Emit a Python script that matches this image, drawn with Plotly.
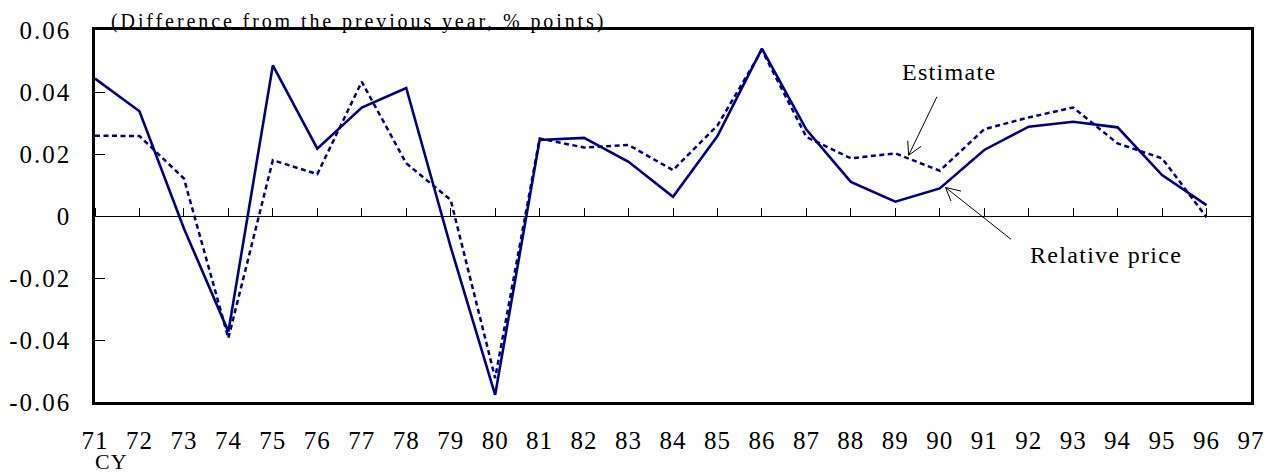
import plotly.graph_objects as go

# Calendar years (two-digit) and the two series, year-on-year change in % points
years = list(range(71, 97))
relative_price = [0.0443, 0.0338, -0.0040, -0.0373, 0.0486, 0.0217, 0.0350, 0.0413,
                  -0.0100, -0.0577, 0.0245, 0.0252, 0.0175, 0.0062, 0.0258, 0.0540,
                  0.0279, 0.0110, 0.0046, 0.0089, 0.0213, 0.0288, 0.0304, 0.0286,
                  0.0132, 0.0035]
estimate = [0.0259, 0.0258, 0.0121, -0.0394, 0.0180, 0.0135, 0.0433, 0.0170,
            0.0052, -0.0523, 0.0250, 0.0221, 0.0229, 0.0148, 0.0292, 0.0535,
            0.0255, 0.0186, 0.0202, 0.0146, 0.0280, 0.0318, 0.0350, 0.0234,
            0.0186, -0.0004]

x_ticks = list(range(71, 98))
y_ticks = [-0.06, -0.04, -0.02, 0, 0.02, 0.04, 0.06]
y_labels = ["-0.06", "-0.04", "-0.02", "0", "0.02", "0.04", "0.06"]

NAVY = "#000080"
SERIF = "Liberation Serif, Times New Roman, serif"


def spaced(text, px):
    return f'<span style="letter-spacing:{px}px">{text}</span>'


fig = go.Figure()
fig.add_trace(go.Scatter(x=years, y=estimate, mode="lines", name="Estimate",
                         line=dict(color=NAVY, width=2.5, dash="5px,3.5px")))
fig.add_trace(go.Scatter(x=years, y=relative_price, mode="lines", name="Relative price",
                         line=dict(color=NAVY, width=2.6)))
# invisible trace to carry the secondary x-axis (tick marks along the zero line)
fig.add_trace(go.Scatter(x=[71, 97], y=[0, 0], xaxis="x2", mode="lines",
                         line=dict(width=0), hoverinfo="skip", showlegend=False))

fig.update_layout(
    width=1276, height=474,
    margin=dict(l=95, r=25, t=30, b=72),
    paper_bgcolor="white", plot_bgcolor="white",
    showlegend=False,
    font=dict(family=SERIF, color="black", size=24),
    xaxis=dict(range=[71, 97], tickvals=x_ticks,
               ticktext=[spaced(str(v), 1) for v in x_ticks],
               ticks="", showgrid=False, zeroline=False, automargin=False,
               showline=True, linecolor="black", linewidth=2.5, mirror=True,
               ticklabelstandoff=14, tickfont=dict(size=25, family=SERIF)),
    xaxis2=dict(range=[71, 97], overlaying="x", anchor="free", position=0.5,
                side="top", tickvals=x_ticks, ticks="outside", ticklen=8,
                tickwidth=1, tickcolor="black", showticklabels=False,
                showgrid=False, zeroline=False, showline=False, automargin=False),
    yaxis=dict(range=[-0.06, 0.06], tickvals=y_ticks,
               ticktext=[spaced(t, 2) for t in y_labels],
               ticks="inside", ticklen=10, tickwidth=1, tickcolor="black",
               showgrid=False, zeroline=True, zerolinecolor="black",
               zerolinewidth=1.3, showline=True, linecolor="black",
               linewidth=2.5, mirror=True, ticklabelstandoff=16, automargin=False,
               tickfont=dict(size=25, family=SERIF)),
)


def pointer(x, y, ax, ay):
    """A thin straight line ending at (x, y); ax/ay are pixel offsets of its far end."""
    return dict(text="", xref="x", yref="y", x=x, y=y, ax=ax, ay=ay,
                showarrow=True, arrowhead=0, arrowwidth=1, arrowcolor="black")


annotations = [
    dict(text=spaced("(Difference from the previous year, % points)", 2.9),
         xref="paper", yref="paper", x=0.0117, y=1, xanchor="left",
         yanchor="middle", yshift=9, showarrow=False, font=dict(size=20)),
    dict(text=spaced("CY", 1), xref="paper", yref="paper", x=0.0147, y=0,
         xanchor="center", yanchor="middle", yshift=-59, showarrow=False,
         font=dict(size=22)),
    dict(text=spaced("Estimate", 1.3), xref="x", yref="y", x=90.2, y=0.0464,
         showarrow=False, font=dict(size=24)),
    dict(text=spaced("Relative price", 1.3), xref="x", yref="y", x=93.73, y=-0.0126,
         showarrow=False, font=dict(size=24)),
    # arrow pointing at the Estimate line: shaft and two open barbs
    pointer(89.3, 0.0196, 29, -60),
    pointer(89.3, 0.0196, 14, -10),
    pointer(89.3, 0.0196, -1, -16),
    # arrow pointing at the Relative price line
    pointer(90.13, 0.0092, 67, 53),
    pointer(90.13, 0.0092, 17, 4),
    pointer(90.13, 0.0092, 6, 15),
]
fig.update_layout(annotations=annotations)

fig.write_html("out.html")
